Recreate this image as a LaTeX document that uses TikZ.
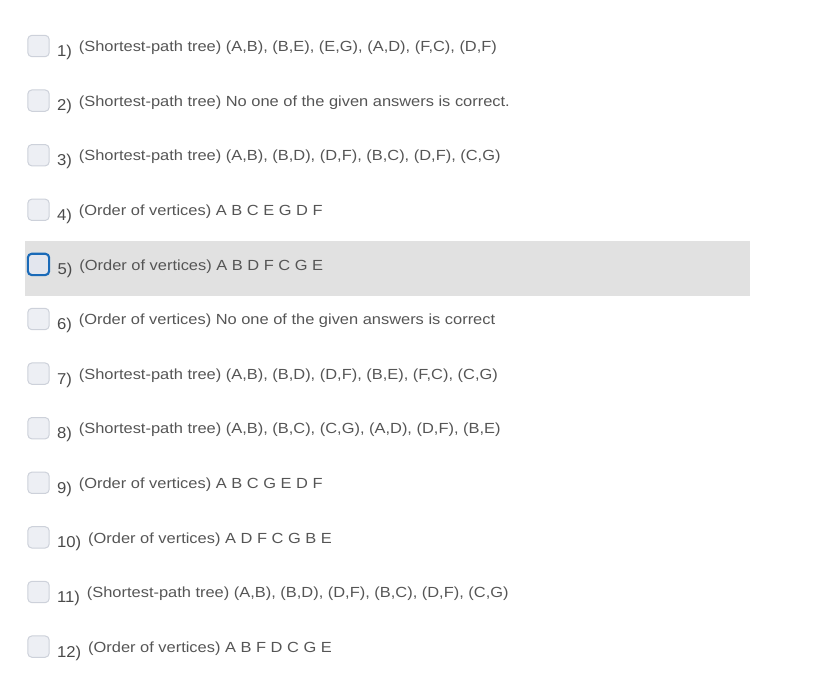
\documentclass[tikz,border=0pt]{standalone}
\usepackage{fontspec}
\setmainfont{Liberation Sans}
\newfontfamily\answerfont{Liberation Sans}[FakeStretch=1.12]
\newfontfamily\numfont{Liberation Sans}[FakeStretch=1.06]
\usetikzlibrary{positioning}
\definecolor{txtgray}{HTML}{555555}
\definecolor{numgray}{HTML}{4A4A4A}
\definecolor{boxfill}{HTML}{EDEFF4}
\definecolor{boxline}{HTML}{CDD1DA}
\definecolor{selblue}{HTML}{1A6AB8}
\definecolor{selfill}{HTML}{E3E6EE}
\definecolor{rowgray}{HTML}{E1E1E1}

\begin{document}
\begin{tikzpicture}[x=0.75pt, y=-0.75pt,
    checkbox/.style={draw=boxline, fill=boxfill, line width=0.75pt, rounded corners=3pt,
        minimum width=16pt, minimum height=16pt, inner sep=0pt},
    selbox/.style={checkbox, draw=selblue, fill=selfill, line width=1.6pt},
    numlabel/.style={anchor=base west, inner sep=0pt, text=numgray, font=\numfont\fontsize{11.8pt}{13pt}\selectfont},
    answer/.style={anchor=base west, inner sep=0pt, text=txtgray, font=\answerfont\fontsize{11pt}{13pt}\selectfont}]

    \useasboundingbox (0,0) rectangle (832,681);

    % selected row
    \fill[rowgray] (25,241) rectangle (750,296);

    % answers
    \foreach \n/\ans in {
        1/{(Shortest-path tree) (A,B), (B,E), (E,G), (A,D), (F,C), (D,F)},
        2/{(Shortest-path tree) No one of the given answers is correct.},
        3/{(Shortest-path tree) (A,B), (B,D), (D,F), (B,C), (D,F), (C,G)},
        4/{(Order of vertices) A B C E G D F},
        5/{(Order of vertices) A B D F C G E},
        6/{(Order of vertices) No one of the given answers is correct},
        7/{(Shortest-path tree) (A,B), (B,D), (D,F), (B,E), (F,C), (C,G)},
        8/{(Shortest-path tree) (A,B), (B,C), (C,G), (A,D), (D,F), (B,E)},
        9/{(Order of vertices) A B C G E D F},
        10/{(Order of vertices) A D F C G B E},
        11/{(Shortest-path tree) (A,B), (B,D), (D,F), (B,C), (D,F), (C,G)},
        12/{(Order of vertices) A B F D C G E}}{
        \ifnum\n=5
            \node[selbox] (box\n) at (38.5,{46+(\n-1)*54.6}) {};
        \else
            \node[checkbox] (box\n) at (38.5,{46+(\n-1)*54.6}) {};
        \fi
        \node[numlabel] (num\n) at ([xshift=5.3pt, yshift=-7.8pt]box\n.east) {\n)};
        \node[answer] (txt\n) at ([xshift=4.9pt, yshift=3.5pt]num\n.base east) {\ans};
    }

\end{tikzpicture}
\end{document}
